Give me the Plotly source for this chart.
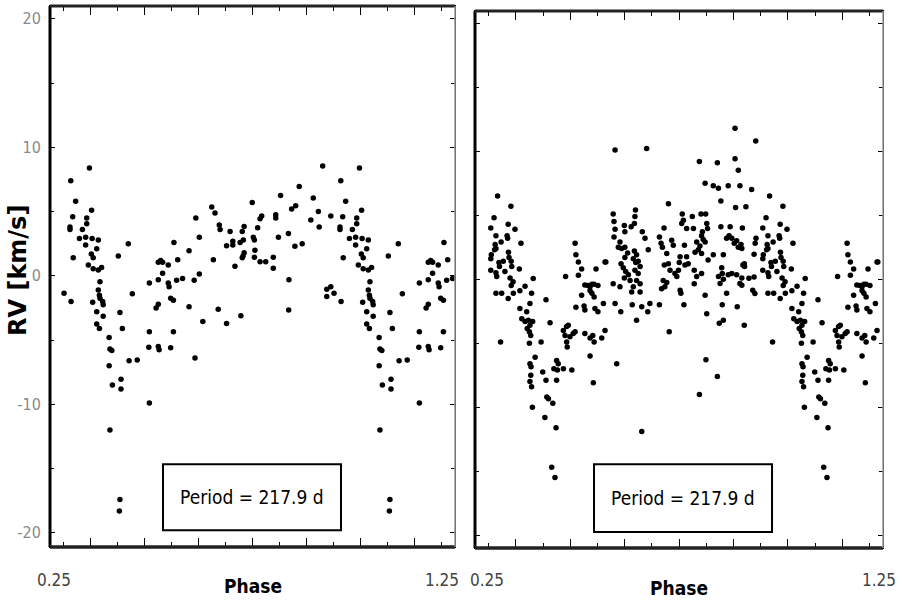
import plotly.graph_objects as go

# ---------------- data (phase, RV in km/s) ----------------
left_phase = [
    -0.104, -0.173, -0.155, -0.096, -0.166, -0.114, -0.176, -0.176, -0.114, -0.130,
    -0.141, -0.118, -0.118, -0.094, -0.071, 0.040, -0.077, -0.097, -0.090, -0.164,
    0.003, -0.108, -0.090, -0.071, -0.059, -0.065, -0.198, -0.172, -0.071, -0.067,
    -0.065, -0.055, -0.092, -0.053, -0.077, -0.053, -0.077, -0.067, 0.055, 0.009,
    0.018, -0.031, -0.028, -0.021, -0.031, 0.043, 0.073, -0.019, 0.013, 0.013,
    -0.028, 0.118, 0.118, 0.118, 0.116, 0.151, 0.154, 0.197, 0.207, 0.151,
    0.160, 0.167, 0.188, 0.223, 0.209, 0.167, 0.151, 0.188, 0.191, 0.219,
    0.241, 0.265, 0.265, 0.143, 0.151, 0.197, 0.207, 0.009, 0.007,
    0.287, 0.316, 0.373, 0.404, 0.457, 0.634,
    0.760, 0.673, 0.604, 0.725, 0.499, 0.645, 0.660, 0.744, 0.716, 0.747,
    0.349, 0.361, 0.290, 0.534, 0.528, 0.586, 0.586, 0.519, 0.469, 0.462,
    0.377, 0.380, 0.417, 0.303, 0.596, 0.633, 0.503, 0.507, 0.466, 0.454,
    0.427, 0.427, 0.404, 0.657, 0.684, 0.509, 0.469, 0.465, 0.462, 0.355,
    0.507, 0.528, 0.549, 0.577, 0.577, 0.435, 0.303, 0.284, 0.635,
    0.790, 0.775, 0.790, 0.775,
]
left_rv = [
    8.4, 7.4, 5.8, 5.1, 4.6, 4.5, 3.8, 3.6, 4.05, 3.6,
    2.9, 3.0, 2.4, 2.9, 2.8, 2.5, 2.1, 1.7, 1.4, 1.4,
    1.55, 0.85, 0.55, 0.45, 0.65, -0.45, -1.35, -2.0, -1.1, -1.5,
    -1.75, -2.0, -2.05, -2.25, -2.8, -3.15, -3.75, -4.1, -1.4, -2.85,
    -4.1, -4.8, -5.7, -5.8, -7.0, -6.6, -6.55, -8.5, -8.05, -8.8,
    -12.0, -9.9, -0.55, -4.35, -5.55, -5.5, -5.75, -5.6, -4.35, 1.05,
    1.2, 1.05, 0.85, 1.25, 2.6, 0.2, -0.3, -0.55, -0.85, -0.35,
    -0.2, 1.95, -2.4, -2.5, -2.2, -1.75, -1.9, -17.4, -18.3,
    -6.4, -3.55, -2.6, -3.7, -3.1, -2.65,
    8.55, 6.95, 6.25, 6.05, 5.7, 5.2, 5.45, 5.0, 4.35, 3.8,
    5.35, 4.9, 4.5, 4.65, 4.45, 4.75, 4.5, 3.75, 3.85, 3.45,
    3.95, 3.6, 3.45, 3.0, 3.0, 3.3, 3.0, 2.8, 2.8, 2.6,
    2.7, 2.4, 2.35, 2.3, 2.5, 2.0, 1.8, 1.55, 1.4, 1.25,
    1.45, 1.1, 1.1, 1.45, 0.6, 0.75, 0.15, -0.35, -0.3,
    4.65, -1.05, -0.85, -1.6,
]

right_phase = [
    # early phases, upper group
    -0.167, -0.118, -0.180, -0.128, -0.103, -0.192, -0.173, -0.132, -0.130, -0.154,
    -0.081, -0.176, -0.173, -0.178, -0.190, -0.192, -0.127, -0.125, -0.146, -0.162,
    -0.160, -0.117, -0.115, -0.087, -0.192, -0.173, -0.170, -0.140, -0.121, -0.110,
    -0.117, -0.036, -0.066, -0.085, -0.173, -0.152, -0.109, -0.128, -0.042, -0.085,
    -0.048, 0.011, -0.060, -0.078, 0.026, 0.083, 0.118, 0.121, 0.130, 0.142,
    0.130, 0.195, 0.228, 0.154, 0.165, 0.173, 0.180, 0.188, 0.202, 0.173,
    0.180, 0.188, 0.142, 0.121, 0.151, 0.154, 0.191, 0.202,
    # lower group
    -0.156, -0.066, -0.054, -0.038, -0.048, -0.058, -0.050, -0.045, -0.050, -0.007,
    -0.029, -0.048, -0.044, -0.001, 0.011, -0.045, -0.048, -0.042, 0.050, 0.056,
    0.040, 0.053, 0.075, 0.106, 0.050, 0.014, 0.020, 0.036, -0.039, 0.007,
    0.048, 0.032, 0.044, 0.075, 0.087, 0.093, 0.081, 0.087, 0.099, 0.111,
    0.089, 0.118, 0.154, 0.173, 0.183, 0.188, 0.222, 0.228, 0.216, 0.173,
    0.185, 0.271, 0.265, 0.286, 0.328, 0.344, 0.363, 0.385, 0.393, 0.428,
    0.464, 0.363, 0.518, 0.575, 0.599, 0.602, 0.641, 0.648, 0.663, 0.659,
    0.714, 0.740,
    # middle phases
    0.706, 0.265, 0.381, 0.575, 0.641, 0.706, 0.718, 0.596, 0.626, 0.645,
    0.681, 0.724, 0.654, 0.461, 0.708, 0.258, 0.261, 0.265, 0.261, 0.340,
    0.338, 0.336, 0.299, 0.301, 0.324, 0.365, 0.375, 0.283, 0.277, 0.289,
    0.301, 0.311, 0.301, 0.336, 0.344, 0.332, 0.341, 0.350, 0.357, 0.387,
    0.231, 0.287, 0.295, 0.304, 0.314, 0.299, 0.320, 0.338, 0.350, 0.344,
    0.357, 0.332, 0.326, 0.357, 0.258, 0.283, 0.445, 0.428, 0.434, 0.439,
    0.473, 0.479, 0.455, 0.446, 0.461, 0.467, 0.442, 0.448, 0.436, 0.455,
    0.498, 0.485, 0.492, 0.504, 0.501, 0.520, 0.512, 0.516, 0.510, 0.549,
    0.581, 0.598, 0.528, 0.553, 0.528, 0.534, 0.522, 0.565, 0.577, 0.589,
    0.583, 0.596, 0.559, 0.571, 0.583, 0.602, 0.605, 0.586, 0.556, 0.565,
    0.556, 0.583, 0.596, 0.504, 0.507, 0.607, 0.626, 0.654, 0.688, 0.663,
    0.657, 0.659, 0.675, 0.684, 0.694, 0.703, 0.712, 0.718, 0.728, 0.645,
    0.663, 0.681, 0.694, 0.712, 0.731, 0.651, 0.675, 0.731, 0.740, 0.733,
    # late phases
    0.782, 0.767, 0.746, 0.783, 0.780, 0.776, 0.731, 0.735, 0.741, 0.724,
    0.757, 0.776, 0.771, 0.779,
]
right_rv = [
    6.5, 5.7, 4.8, 4.3, 3.9, 4.0, 3.4, 3.4, 3.2, 2.9,
    2.8, 2.7, 2.4, 2.3, 1.9, 1.6, 2.1, 1.7, 1.4, 1.3,
    1.0, 1.4, 1.0, 0.8, 0.7, 0.5, 0.2, 0.6, 0.1, -0.2,
    -0.5, 0.05, -0.55, -0.9, -1.1, -1.1, -1.1, -1.5, -1.1, -2.3,
    -1.9, -1.6, -2.55, -3.1, -3.4, 0.2, 2.8, 1.9, 1.35, 0.8,
    0.3, 0.8, 1.35, -0.45, -0.5, -0.6, -0.4, -0.4, -0.5, -0.9,
    -1.1, -1.4, -1.25, -2.2, -2.1, -2.4, -2.3, -2.55,
    -4.9, -3.3, -3.2, -3.3, -3.6, -3.85, -4.1, -4.4, -5.0, -4.9,
    -6.1, -6.6, -6.85, -7.25, -7.9, -7.5, -8.0, -8.4, -6.35, -6.6,
    -7.0, -7.1, -7.0, -7.1, -7.9, -9.2, -9.35, -9.7, -10.0, -10.8,
    -11.6, -14.7, -15.5, -4.0, -3.7, -3.6, -4.4, -4.9, -4.5, -4.25,
    -5.3, -4.1, -4.25, -4.6, -4.4, -4.9, -1.9, -4.0, -4.6, -6.0,
    -8.1, -6.6, -1.9, -2.55, -2.0, -3.2, -2.15, -2.55, -1.9, -2.0,
    -4.1, -11.9, -2.0, -9.0, -6.3, -2.7, -7.6, -3.45, -3.2, -2.0,
    -2.15, -3.6,
    11.8, 10.1, 10.2, 9.2, 9.1, 9.4, 8.5, 7.5, 7.3, 7.1,
    7.3, 7.3, 6.1, 5.9, 5.6, 5.1, 4.5, 3.9, 3.3, 5.4,
    4.9, 4.35, 4.2, 3.7, 4.1, 3.7, 3.2, 2.9, 2.5, 2.4,
    2.5, 2.05, 1.7, 2.2, 1.9, 1.6, 1.3, 1.4, 1.0, 2.3,
    1.35, 1.2, 0.9, 0.6, 0.35, 0.1, -0.1, 0.7, 0.45, -0.1,
    -0.35, -0.6, -1.0, -1.0, -0.35, -0.6, 4.0, 3.3, 2.8, 2.5,
    3.05, 2.65, 2.0, 1.1, 1.2, 0.7, -0.1, -0.6, -0.75, -0.25,
    0.7, 0.45, 0.2, 1.75, 1.3, 2.65, 5.1, 4.6, 4.35, 4.9,
    5.1, 5.1, 3.95, 3.95, 1.75, 1.2, 1.1, 2.9, 2.6, 3.1,
    3.4, 2.9, 2.1, 2.3, 2.0, 4.35, 3.95, 3.7, 0.7, 0.2,
    -0.35, 0.45, -1.25, -0.86, -1.1, 1.5, 1.9, 4.1, 4.1, 1.9,
    0.9, 0.45, 3.2, 3.4, 3.2, 2.8, 3.0, 2.5, 2.7, 0.2,
    0.0, 0.35, 0.45, 0.35, 0.1, -0.34, -1.1, -0.47, 1.2, 4.0,
    10.8, 7.0, 5.65, 3.2, 2.8, 1.95, 2.4, 1.1, 1.0, -0.34,
    0.08, 0.18, -0.86, -1.12,
]

x_tick_text = ["0.25", "1.25"]
y_tick_vals = [-20, -10, 0, 10, 20]
y_tick_text = ["-20", "-10", "0", "10", "20"]
period_text = "Period = 217.9 d"
x_title = "Phase"
y_title = "RV [km/s]"
x_range = [-0.25, 1.25]


def extend_cycle(phase, rv):
    """Phase-folded display over 1.5 cycles: early phases repeated one cycle later."""
    xs, ys = list(phase), list(rv)
    for p, v in zip(phase, rv):
        if p + 1 <= x_range[1]:
            xs.append(p + 1)
            ys.append(v)
    return xs, ys


lx, ly = extend_cycle(left_phase, left_rv)
rx, ry = extend_cycle(right_phase, right_rv)

NARROW = "Liberation Sans Narrow, Arial Narrow, DejaVu Sans Condensed, sans-serif"
marker = dict(color="black", size=5.5, symbol="circle", line=dict(width=0))

fig = go.Figure()
fig.add_trace(go.Scatter(x=lx, y=ly, mode="markers", marker=marker, xaxis="x", yaxis="y",
                         showlegend=False, hoverinfo="skip"))
fig.add_trace(go.Scatter(x=rx, y=ry, mode="markers", marker=marker, xaxis="x2", yaxis="y2",
                         showlegend=False, hoverinfo="skip"))

xcommon = dict(range=x_range, showgrid=False, zeroline=False, showline=True, linecolor="black",
               linewidth=1, mirror="allticks", ticks="inside", ticklen=9, tickwidth=1.3,
               tickcolor="black", tick0=-0.1, dtick=0.2, showticklabels=False,
               minor=dict(ticks="inside", ticklen=5, tickwidth=1.1, tick0=-0.1, dtick=0.1,
                          tickcolor="black"))
ycommon = dict(showgrid=False, zeroline=False, showline=True, linecolor="black", linewidth=1,
               mirror="allticks", ticks="inside", ticklen=5, tickwidth=1.2, tickcolor="black",
               tickvals=y_tick_vals, ticktext=y_tick_text,
               minor=dict(ticks="inside", ticklen=4, tickwidth=1, dtick=5, tick0=0,
                          tickcolor="black"))

W, H = 904, 602
fig.update_layout(
    width=W, height=H, margin=dict(l=0, r=0, t=0, b=0),
    paper_bgcolor="white", plot_bgcolor="white",
    xaxis=dict(domain=[50 / W, 455 / W], anchor="y", **xcommon),
    yaxis=dict(domain=[1 - 547 / H, 1 - 6 / H], anchor="x", range=[-21.1, 21.0],
               showticklabels=True, ticklabelstandoff=5,
               tickfont=dict(family=NARROW, size=16, color="#8a8a8a"), **ycommon),
    xaxis2=dict(domain=[475 / W, 883 / W], anchor="y2", **xcommon),
    yaxis2=dict(domain=[1 - 548 / H, 1 - 11 / H], anchor="x2", range=[-21.0, 20.95],
                showticklabels=False, **ycommon),
)

shapes = []
for xr, yr in (("x domain", "y domain"), ("x2 domain", "y2 domain")):
    # heavy left, top and bottom frame lines, light right line
    shapes.append(dict(type="line", xref=xr, yref=yr, x0=0, x1=0, y0=0, y1=1,
                       line=dict(color="black", width=3), layer="above"))
    shapes.append(dict(type="line", xref=xr, yref=yr, x0=0, x1=1, y0=1, y1=1,
                       line=dict(color="#222", width=3), layer="above"))
    shapes.append(dict(type="line", xref=xr, yref=yr, x0=0, x1=1, y0=0, y1=0,
                       line=dict(color="#222", width=3.5), layer="above"))
    shapes.append(dict(type="line", xref=xr, yref=yr, x0=1, x1=1, y0=0, y1=1,
                       line=dict(color="#9a9a9a", width=1.5), layer="above"))
# Period boxes
shapes.append(dict(type="rect", xref="x domain", yref="y domain", x0=0.279, x1=0.7185,
                   y0=0.031, y1=0.153, line=dict(color="black", width=2),
                   fillcolor="white", layer="above"))
shapes.append(dict(type="rect", xref="x2 domain", yref="y2 domain", x0=0.2917, x1=0.728,
                   y0=0.030, y1=0.156, line=dict(color="black", width=2),
                   fillcolor="white", layer="above"))

annotations = [
    dict(text=period_text, xref="x domain", yref="y domain", x=0.5, y=0.092, showarrow=False,
         font=dict(family=NARROW, size=19, color="black"), xanchor="center", yanchor="middle"),
    dict(text=period_text, xref="x2 domain", yref="y2 domain", x=0.51, y=0.093, showarrow=False,
         font=dict(family=NARROW, size=19, color="black"), xanchor="center", yanchor="middle"),
    dict(text="<b>" + x_title + "</b>", xref="x domain", yref="paper", x=0.502, y=1 - 586 / H,
         showarrow=False, font=dict(family=NARROW, size=19, color="black"),
         xanchor="center", yanchor="middle"),
    dict(text="<b>" + x_title + "</b>", xref="x2 domain", yref="paper", x=0.5, y=1 - 588 / H,
         showarrow=False, font=dict(family=NARROW, size=19, color="black"),
         xanchor="center", yanchor="middle"),
    dict(text=x_tick_text[0], xref="x", yref="paper", x=-0.235, y=1 - 580 / H, showarrow=False,
         font=dict(family=NARROW, size=17, color="#444"), xanchor="center", yanchor="middle"),
    dict(text=x_tick_text[1], xref="x", yref="paper", x=1.202, y=1 - 580 / H, showarrow=False,
         font=dict(family=NARROW, size=17, color="#444"), xanchor="center", yanchor="middle"),
    dict(text=x_tick_text[0], xref="x2", yref="paper", x=-0.206, y=1 - 580 / H, showarrow=False,
         font=dict(family=NARROW, size=17, color="#444"), xanchor="center", yanchor="middle"),
    dict(text=x_tick_text[1], xref="x2", yref="paper", x=1.235, y=1 - 580 / H, showarrow=False,
         font=dict(family=NARROW, size=17, color="#444"), xanchor="center", yanchor="middle"),
    dict(text="<b>" + y_title + "</b>", xref="paper", yref="paper", x=18 / W, y=1 - 271 / H,
         textangle=-90, showarrow=False,
         font=dict(family="DejaVu Sans, Arial, sans-serif", size=24, color="black"),
         xanchor="center", yanchor="middle"),
]

fig.update_layout(shapes=shapes, annotations=annotations)
fig.write_html("out.html")
